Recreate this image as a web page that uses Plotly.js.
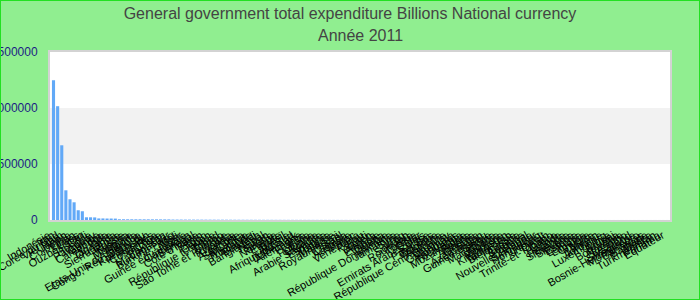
<!DOCTYPE html>
<html>
<head>
<meta charset="utf-8">
<script src="https://cdn.plot.ly/plotly-3.0.1.min.js"></script>
<style>
  html, body { margin: 0; padding: 0; background: #90EE90; }
  #wrap { position: relative; width: 700px; height: 300px; }
  #chart { width: 700px; height: 300px; }
  #frame { position: absolute; left: 0; top: 0; width: 700px; height: 300px; box-sizing: border-box; border: 1px solid #22e022; pointer-events: none; }
</style>
</head>
<body>
<div id="wrap"><div id="chart"></div><div id="frame"></div></div>
<script>
var chartTitle = "General government total expenditure Billions National currency";
var chartSubtitle = "Année 2011";

var countries = [
  "Indonésie", "Iran", "Corée du Sud", "Viet Nam", "Japon", "Colombie", "Liban", "Laos", "Ouzbékistan", "Chili",
  "Hongrie", "Paraguay", "Guinée", "Cambodge", "Inde", "Tanzanie", "Ouganda", "Sierra Leone", "Russie", "Nigeria",
  "Mongolie", "Islande", "Etats-Unis d'Amérique", "Congo, Rép. Dém. du", "Kazakhstan", "Philippines", "Costa Rica", "Chine", "Pakistan", "Madagascar",
  "Burkina Faso", "Mali", "Niger", "Guinée équatoriale", "Cameroun", "Sénégal", "Côte d'Ivoire", "Bénin", "Togo", "Gabon",
  "République tchèque", "Tchad", "Congo", "Sao Tomé et Principe", "Rwanda", "Kenya", "Argentine", "Sri Lanka", "Mexique", "Thaïlande",
  "Burundi", "Bangladesh", "Népal", "Taïwan", "Suède", "Norvège", "Egypte", "Brésil", "Algérie", "Afrique du Sud",
  "Danemark", "Allemagne", "France", "Italie", "Pologne", "Ukraine", "Arabie Saoudite", "Espagne", "Turquie", "Malaisie",
  "Royaume-Uni", "Israël", "Canada", "Australie", "Maroc", "Venezuela", "Pérou", "Haïti", "Yémen", "Angola",
  "Ethiopie", "Ghana", "Zambie", "République Dominicaine", "Jamaïque", "Syrie", "Iraq", "Soudan", "Roumanie", "Tunisie",
  "Qatar", "Emirats Arabes Unis", "Suisse", "Pays-Bas", "Belgique", "Autriche", "République Centrafricaine", "Uruguay", "Guatemala", "Honduras",
  "Nicaragua", "Mozambique", "Bolivie", "Arménie", "Géorgie", "Azerbaïdjan", "Guinée-Bissau", "Serbie", "Macédoine", "Albanie",
  "Moldavie", "Kirghizistan", "Tadjikistan", "Biélorussie", "Croatie", "Bulgarie", "Portugal", "Nouvelle-Zélande", "Singapour", "Hong Kong",
  "Koweït", "Oman", "Trinité-et-Tobago", "Grèce", "Irlande", "Finlande", "Slovaquie", "Slovénie", "Estonie", "Lettonie",
  "Lituanie", "Chypre", "Malte", "Bahreïn", "Jordanie", "Luxembourg", "Libye", "Brunei", "Botswana", "Namibie",
  "Lesotho", "Swaziland", "Bosnie-Herzégovine", "Monténégro", "Bahamas", "Barbade", "Belize", "Turkménistan", "Panama", "Equateur"
];

var expenditure = [
  1248000, 1016000, 667000, 265000, 185000, 158000, 87000, 78000, 24000, 24000,
  23000, 14000, 14000, 13000, 13000, 12500, 6500, 6400, 6200, 6100,
  6000, 5900, 5800, 5700, 5600, 5500, 5400, 5300, 5200, 3900,
  3750, 3700, 3520, 3400, 3310, 3150, 3080, 2950, 2870, 2760,
  2600, 2550, 2410, 2300, 2240, 2100, 2020, 1950, 1880, 1760,
  1700, 1620, 1540, 1480, 1400, 1350, 1290, 1210, 1160, 1100,
  1050, 990, 940, 900, 860, 820, 780, 745, 700, 670,
  640, 600, 575, 540, 510, 480, 455, 430, 405, 380,
  360, 340, 320, 300, 285, 270, 250, 236, 220, 205,
  192, 180, 168, 156, 145, 135, 126, 117, 108, 100,
  93, 86, 80, 74, 68, 63, 58, 54, 50, 46,
  42, 39, 36, 33, 30, 28, 26, 24, 22, 20,
  18, 16.5, 15, 13.8, 12.5, 11.4, 10.3, 9.4, 8.5, 7.7,
  7, 6.3, 5.7, 5.1, 4.6, 4.1, 3.7, 3.3, 2.9, 2.6,
  2.3, 2, 1.8, 1.5, 1.3, 1.1, 0.9, 0.7, 0.5, 0.3
];

var yTickValues = [0, 500000, 1000000, 1500000];
var yTickLabels = ["0", "500000", "1000000", "1500000"];

var barColor = "#62a9f7";

var trace = {
  type: "bar",
  x: countries,
  y: expenditure,
  marker: { color: barColor, line: { width: 0.02, color: barColor } },
  hoverinfo: "x+y"
};

var layout = {
  width: 700,
  height: 300,
  paper_bgcolor: "#90EE90",
  plot_bgcolor: "#ffffff",
  font: { family: "Liberation Sans, Arial, sans-serif", color: "#000000" },
  margin: { l: 50, r: 30, t: 52, b: 80, pad: 0 },
  title: {
    text: chartTitle,
    font: { size: 16, color: "#444444" },
    x: 0.5, xanchor: "center", y: 1 - 13 / 300, yanchor: "middle"
  },
  annotations: [{
    text: chartSubtitle,
    xref: "paper", yref: "paper",
    x: 0.5, xanchor: "center",
    y: 1 + (52 - 36) / 168, yanchor: "middle",
    showarrow: false,
    font: { size: 16, color: "#444444" }
  }],
  bargap: 0.25,
  showlegend: false,
  xaxis: {
    type: "category",
    range: [-0.85, countries.length - 0.35],
    tickmode: "linear",
    tick0: 0,
    dtick: 1,
    tickangle: -30,
    tickfont: { size: 11, color: "#000000" },
    ticklabelstandoff: 3,
    ticklabelshift: -5,
    showgrid: false,
    zeroline: false,
    showline: true,
    mirror: true,
    linecolor: "#d3d3d3",
    linewidth: 2,
    ticks: "",
    automargin: false
  },
  yaxis: {
    range: [0, 1500000],
    tickvals: yTickValues,
    ticktext: yTickLabels,
    tickfont: { size: 12, color: "#1c1c84" },
    showgrid: false,
    zeroline: false,
    showline: true,
    mirror: true,
    linecolor: "#d3d3d3",
    linewidth: 2,
    ticks: "",
    ticklabelstandoff: 8,
    automargin: false
  },
  shapes: [{
    type: "rect", xref: "paper", yref: "y", x0: 0, x1: 1, y0: 500000, y1: 1000000,
    fillcolor: "#f2f2f2", line: { width: 0 }, layer: "below"
  }]
};

Plotly.newPlot("chart", [trace], layout, { displayModeBar: false, responsive: false });
</script>
</body>
</html>
